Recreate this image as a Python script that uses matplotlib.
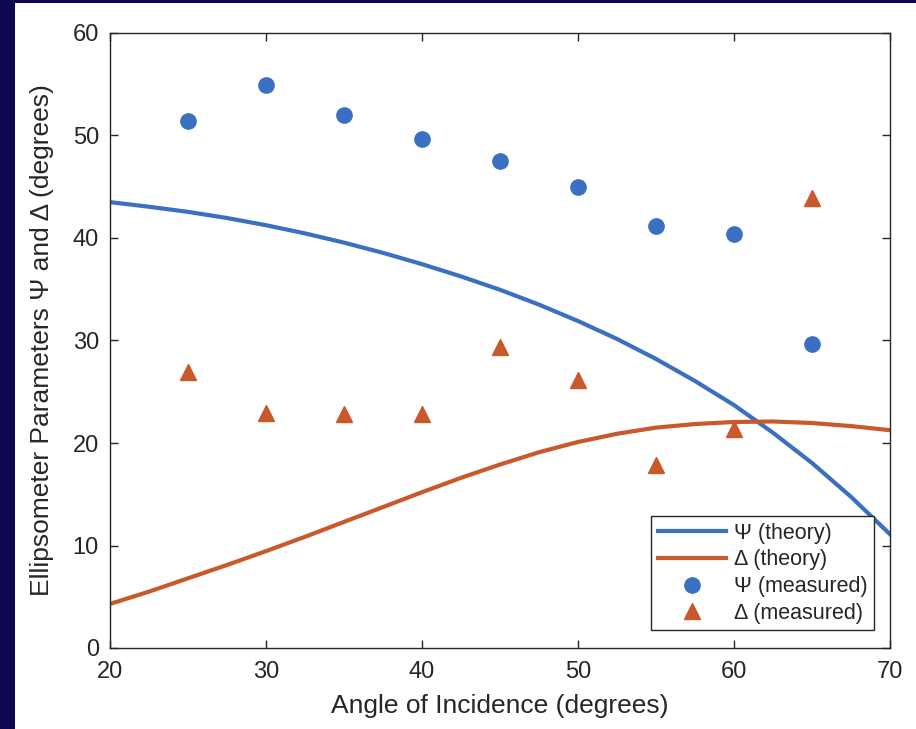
import numpy as np
import matplotlib
matplotlib.use("Agg")
import matplotlib.pyplot as plt
from matplotlib.patches import Rectangle

plt.rcParams['font.family'] = ['Liberation Sans', 'DejaVu Sans']

# theory curves, every 2.5 degrees
angle_theory = [20, 22.5, 25, 27.5, 30, 32.5, 35, 37.5, 40, 42.5, 45,
                47.5, 50, 52.5, 55, 57.5, 60, 62.5, 65, 67.5, 70]
psi_theory = [43.5, 43.05, 42.55, 41.95, 41.25, 40.45, 39.55, 38.55, 37.45, 36.25, 34.95,
              33.5, 31.9, 30.15, 28.2, 26.05, 23.7, 21.0, 18.05, 14.75, 11.1]
delta_theory = [4.3, 5.5, 6.8, 8.1, 9.45, 10.85, 12.3, 13.75, 15.2, 16.6, 17.9,
                19.1, 20.1, 20.9, 21.5, 21.85, 22.05, 22.1, 21.95, 21.65, 21.25]

# measured points
angle_meas = [25, 30, 35, 40, 45, 50, 55, 60, 65]
psi_meas = [51.4, 54.9, 52.0, 49.7, 47.5, 45.0, 41.2, 40.4, 29.7]
delta_meas = [26.9, 22.9, 22.8, 22.8, 29.4, 26.1, 17.9, 21.4, 43.9]

blue = '#3b6fc2'
orange = '#c9582a'
grey = '#262626'

fig = plt.figure(figsize=(9.16, 7.29), dpi=100)
fig.patch.set_facecolor('#0e0650')
# white slide panel behind the plot
fig.patches.append(Rectangle((15/916, 0), 1 - 15/916, 1 - 3/729,
                             transform=fig.transFigure, facecolor='white',
                             edgecolor='none', zorder=-10))

ax = fig.add_axes([110/916, 81/729, 780/916, 615/729])
ax.plot(angle_theory, psi_theory, color=blue, lw=3, label='Ψ (theory)')
ax.plot(angle_theory, delta_theory, color=orange, lw=3, label='Δ (theory)')
ax.plot(angle_meas, psi_meas, 'o', color=blue, ms=11, label='Ψ (measured)')
ax.plot(angle_meas, delta_meas, '^', color=orange, ms=11.5, label='Δ (measured)')

ax.set_xlim(20, 70)
ax.set_ylim(0, 60)
ax.set_xticks(np.arange(20, 71, 10))
ax.set_yticks(np.arange(0, 61, 10))
ax.tick_params(direction='in', length=6, width=1, colors=grey,
               labelsize=17, top=True, right=True)
ax.tick_params(axis='x', pad=9)
ax.tick_params(axis='y', pad=8)
for s in ax.spines.values():
    s.set_color(grey)
    s.set_linewidth(1)

ax.set_xlabel('Angle of Incidence (degrees)', fontsize=19, color=grey, labelpad=8)
ax.set_ylabel('Ellipsometer Parameters Ψ and Δ (degrees)', fontsize=19,
              color=grey, labelpad=13)

leg = ax.legend(loc='lower right', fontsize=15.5, handlelength=3.2,
                frameon=True, fancybox=False, framealpha=1,
                borderpad=0.3, labelspacing=0.27, handletextpad=0.35,
                borderaxespad=0, bbox_to_anchor=(0.9795, 0.0285))
leg.get_frame().set_edgecolor(grey)
leg.get_frame().set_linewidth(1)
for t in leg.get_texts():
    t.set_color(grey)

fig.savefig('out.png', dpi=100, facecolor=fig.get_facecolor())
